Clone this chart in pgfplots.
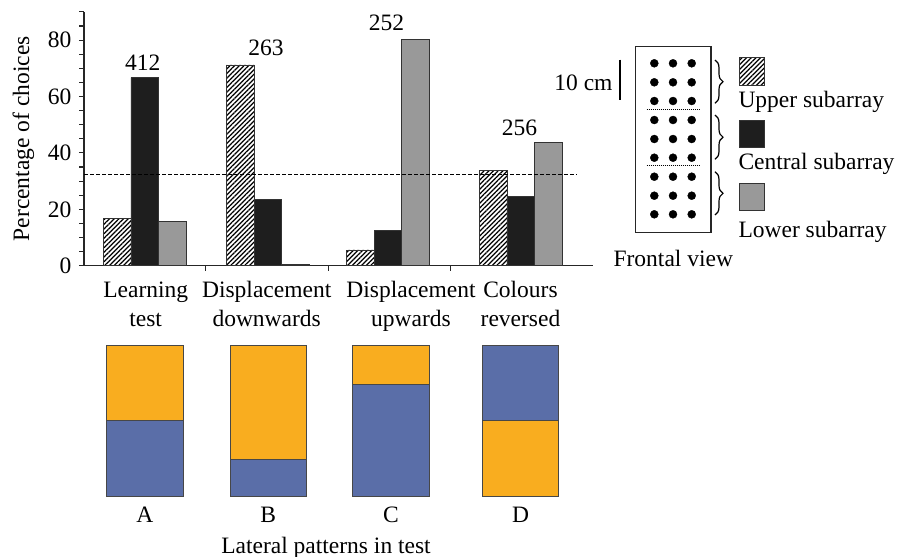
\documentclass[border=0pt]{standalone}
\usepackage{fontspec}
\setmainfont{Liberation Serif}
\usepackage{pgfplots}
\usepackage{pgfplotstable}
\pgfplotsset{compat=1.18}
\usetikzlibrary{patterns.meta,decorations.pathreplacing}
\definecolor{barblack}{HTML}{1E1E1E}
\definecolor{bargray}{HTML}{999999}
\definecolor{edge}{HTML}{333333}
\definecolor{pblue}{HTML}{5A6EA8}
\definecolor{porange}{HTML}{F9AD1F}
\newcommand\fs{\fontsize{23.5bp}{28bp}\selectfont}

% group centre, percentage of choices per subarray
\pgfplotstableread{
x upper central lower
1.000 16.8 66.7 15.6
2.005 71.2 23.6 0.5
2.986 5.6 12.4 80.3
4.070 33.9 24.5 43.6
}\choices

% lateral patterns: share of blue (bottom), orange, blue (top), in % of height
\pgfplotstableread{
x blueA orange blueB
1.002 50.0 50.0 0
2.009 24.3 75.7 0
3.011 74.0 26.0 0
4.069 0 50.0 50.0
}\patterns

\pgfplotstableread{
x y
654.3 63.3
673.0 63.3
691.7 63.3
654.3 82.3
673.0 82.3
691.7 82.3
654.3 101.0
673.0 101.0
691.7 101.0
654.3 120.0
673.0 120.0
691.7 120.0
654.3 139.0
673.0 139.0
691.7 139.0
654.3 157.7
673.0 157.7
691.7 157.7
654.3 176.7
673.0 176.7
691.7 176.7
654.3 195.7
673.0 195.7
691.7 195.7
654.3 214.3
673.0 214.3
691.7 214.3
}\dots

\begin{document}
\begin{tikzpicture}[font=\fs]
\useasboundingbox (0bp,0bp) rectangle (912bp,-557bp);

% ---------------- main bar chart ----------------
\begin{axis}[
  at={(84bp,-265.7bp)}, anchor=south west,
  scale only axis, width=509bp, height=253.8bp,
  xmin=0.5045, xmax=4.66, ymin=0, ymax=90,
  axis x line*=bottom, axis y line*=left,
  axis line style={line width=1.1bp, draw=black!85},
  tick style={line width=1.1bp, draw=black!85},
  tick align=outside,
  major tick length=5bp, minor tick length=4.5bp,
  xtick={1.5,2.5,3.5}, xticklabels={},
  ytick={0,20,40,60,80},
  minor ytick={5,10,15,25,30,35,45,50,55,65,70,75,85,90},
  yticklabel style={xshift=-4bp},
  /pgf/number format/assume math mode=true,
  ylabel={Percentage of choices},
  ylabel style={at={(axis description cs:-0.1193,0.5)}, anchor=center},
  clip=false,
]
\addplot[ybar, bar width=0.2245, bar shift=-0.2245, draw=edge, line width=0.8bp,
  pattern={Lines[angle=45,distance=3.3bp,line width=1.2bp]}, pattern color=black]
  table[x=x,y=upper]{\choices};
\addplot[ybar, bar width=0.2245, bar shift=0, draw=edge, line width=0.8bp, fill=barblack]
  table[x=x,y=central]{\choices};
\addplot[ybar, bar width=0.2245, bar shift=0.2245, draw=edge, line width=0.8bp, fill=bargray]
  table[x=x,y=lower]{\choices};
\addplot[black, line width=1.1bp, dash pattern=on 3.5bp off 2.5bp]
  coordinates {(0.5045,32.5) (4.527,32.5)};
\node at (axis cs:0.985,71.9) {412};
\node at (axis cs:1.99,77.1) {263};
\node at (axis cs:2.975,86.0) {252};
\node at (axis cs:4.06,49.0) {256};
\end{axis}

% ---------------- lateral patterns ----------------
\begin{axis}[
  at={(84bp,-496bp)}, anchor=south west,
  scale only axis, width=509bp, height=151bp,
  xmin=0.5045, xmax=4.66, ymin=0, ymax=100,
  ybar stacked, bar width=0.625,
  axis line style={draw=none}, tick style={draw=none},
  ytick=\empty,
  xtick={1.002,2.009,3.011,4.069}, xticklabels={A,B,C,D},
  xticklabel style={yshift=-7.5bp},
  clip=false,
]
\addplot[draw=edge!90, line width=0.9bp, fill=pblue] table[x=x,y=blueA]{\patterns};
\addplot[draw=edge!90, line width=0.9bp, fill=porange] table[x=x,y=orange]{\patterns};
\addplot[draw=edge!90, line width=0.9bp, fill=pblue] table[x=x,y=blueB]{\patterns};
\end{axis}

% ---------------- frontal view dots ----------------
\begin{axis}[
  at={(600bp,-240bp)}, anchor=south west,
  scale only axis, width=200bp, height=200bp,
  xmin=600, xmax=800, ymin=40, ymax=240, y dir=reverse,
  hide axis, clip=false,
]
\addplot[only marks, mark=*, mark size=4bp, black] table[x=x,y=y]{\dots};
\end{axis}

\begin{scope}[x=1bp,y=-1bp]
% category labels
\node[anchor=base] at (145.7,297) {Learning};
\node[anchor=base] at (145.7,326) {test};
\node[anchor=base] at (266.7,297) {Displacement};
\node[anchor=base] at (266.7,326) {downwards};
\node[anchor=base] at (411,297) {Displacement};
\node[anchor=base] at (411,326) {upwards};
\node[anchor=base] at (520.5,297) {Colours};
\node[anchor=base] at (520.5,326) {reversed};
\node[anchor=base] at (326,553.3) {Lateral patterns in test};

\draw[line width=1.3bp, black!85] (635.5,46.7) rectangle (711,232.7);
\draw[line width=1.2bp, dash pattern=on 1bp off 1bp] (646.7,109.3) -- (700,109.3);
\draw[line width=1.2bp, dash pattern=on 1bp off 1bp] (646.7,165.7) -- (700,165.7);
\draw[line width=1.2bp, decorate, decoration={brace, amplitude=8bp}] (715,60) -- (715,103.3);
\draw[line width=1.2bp, decorate, decoration={brace, amplitude=8bp}] (715,115) -- (715,159.3);
\draw[line width=1.2bp, decorate, decoration={brace, amplitude=8bp}] (715,171.7) -- (715,215);
\draw[line width=1.3bp] (620,59.5) -- (620,99.5);
\node[anchor=base east, inner sep=0pt] at (612.7,90) {10 cm};
\node[anchor=base] at (673.3,266) {Frontal view};

% legend
\draw[edge, line width=1bp, pattern={Lines[angle=45,distance=3.3bp,line width=1.2bp]}, pattern color=black] (739,57.7) rectangle (764.3,85);
\draw[edge, line width=1bp, fill=barblack] (739,120.7) rectangle (764.3,147.7);
\draw[edge, line width=1bp, fill=bargray] (739,183.3) rectangle (764.3,210.7);
\node[anchor=base west, inner sep=0pt] at (738.3,107) {Upper subarray};
\node[anchor=base west, inner sep=0pt] at (738.3,169.5) {Central subarray};
\node[anchor=base west, inner sep=0pt] at (738.3,237) {Lower subarray};
\end{scope}
\end{tikzpicture}
\end{document}
